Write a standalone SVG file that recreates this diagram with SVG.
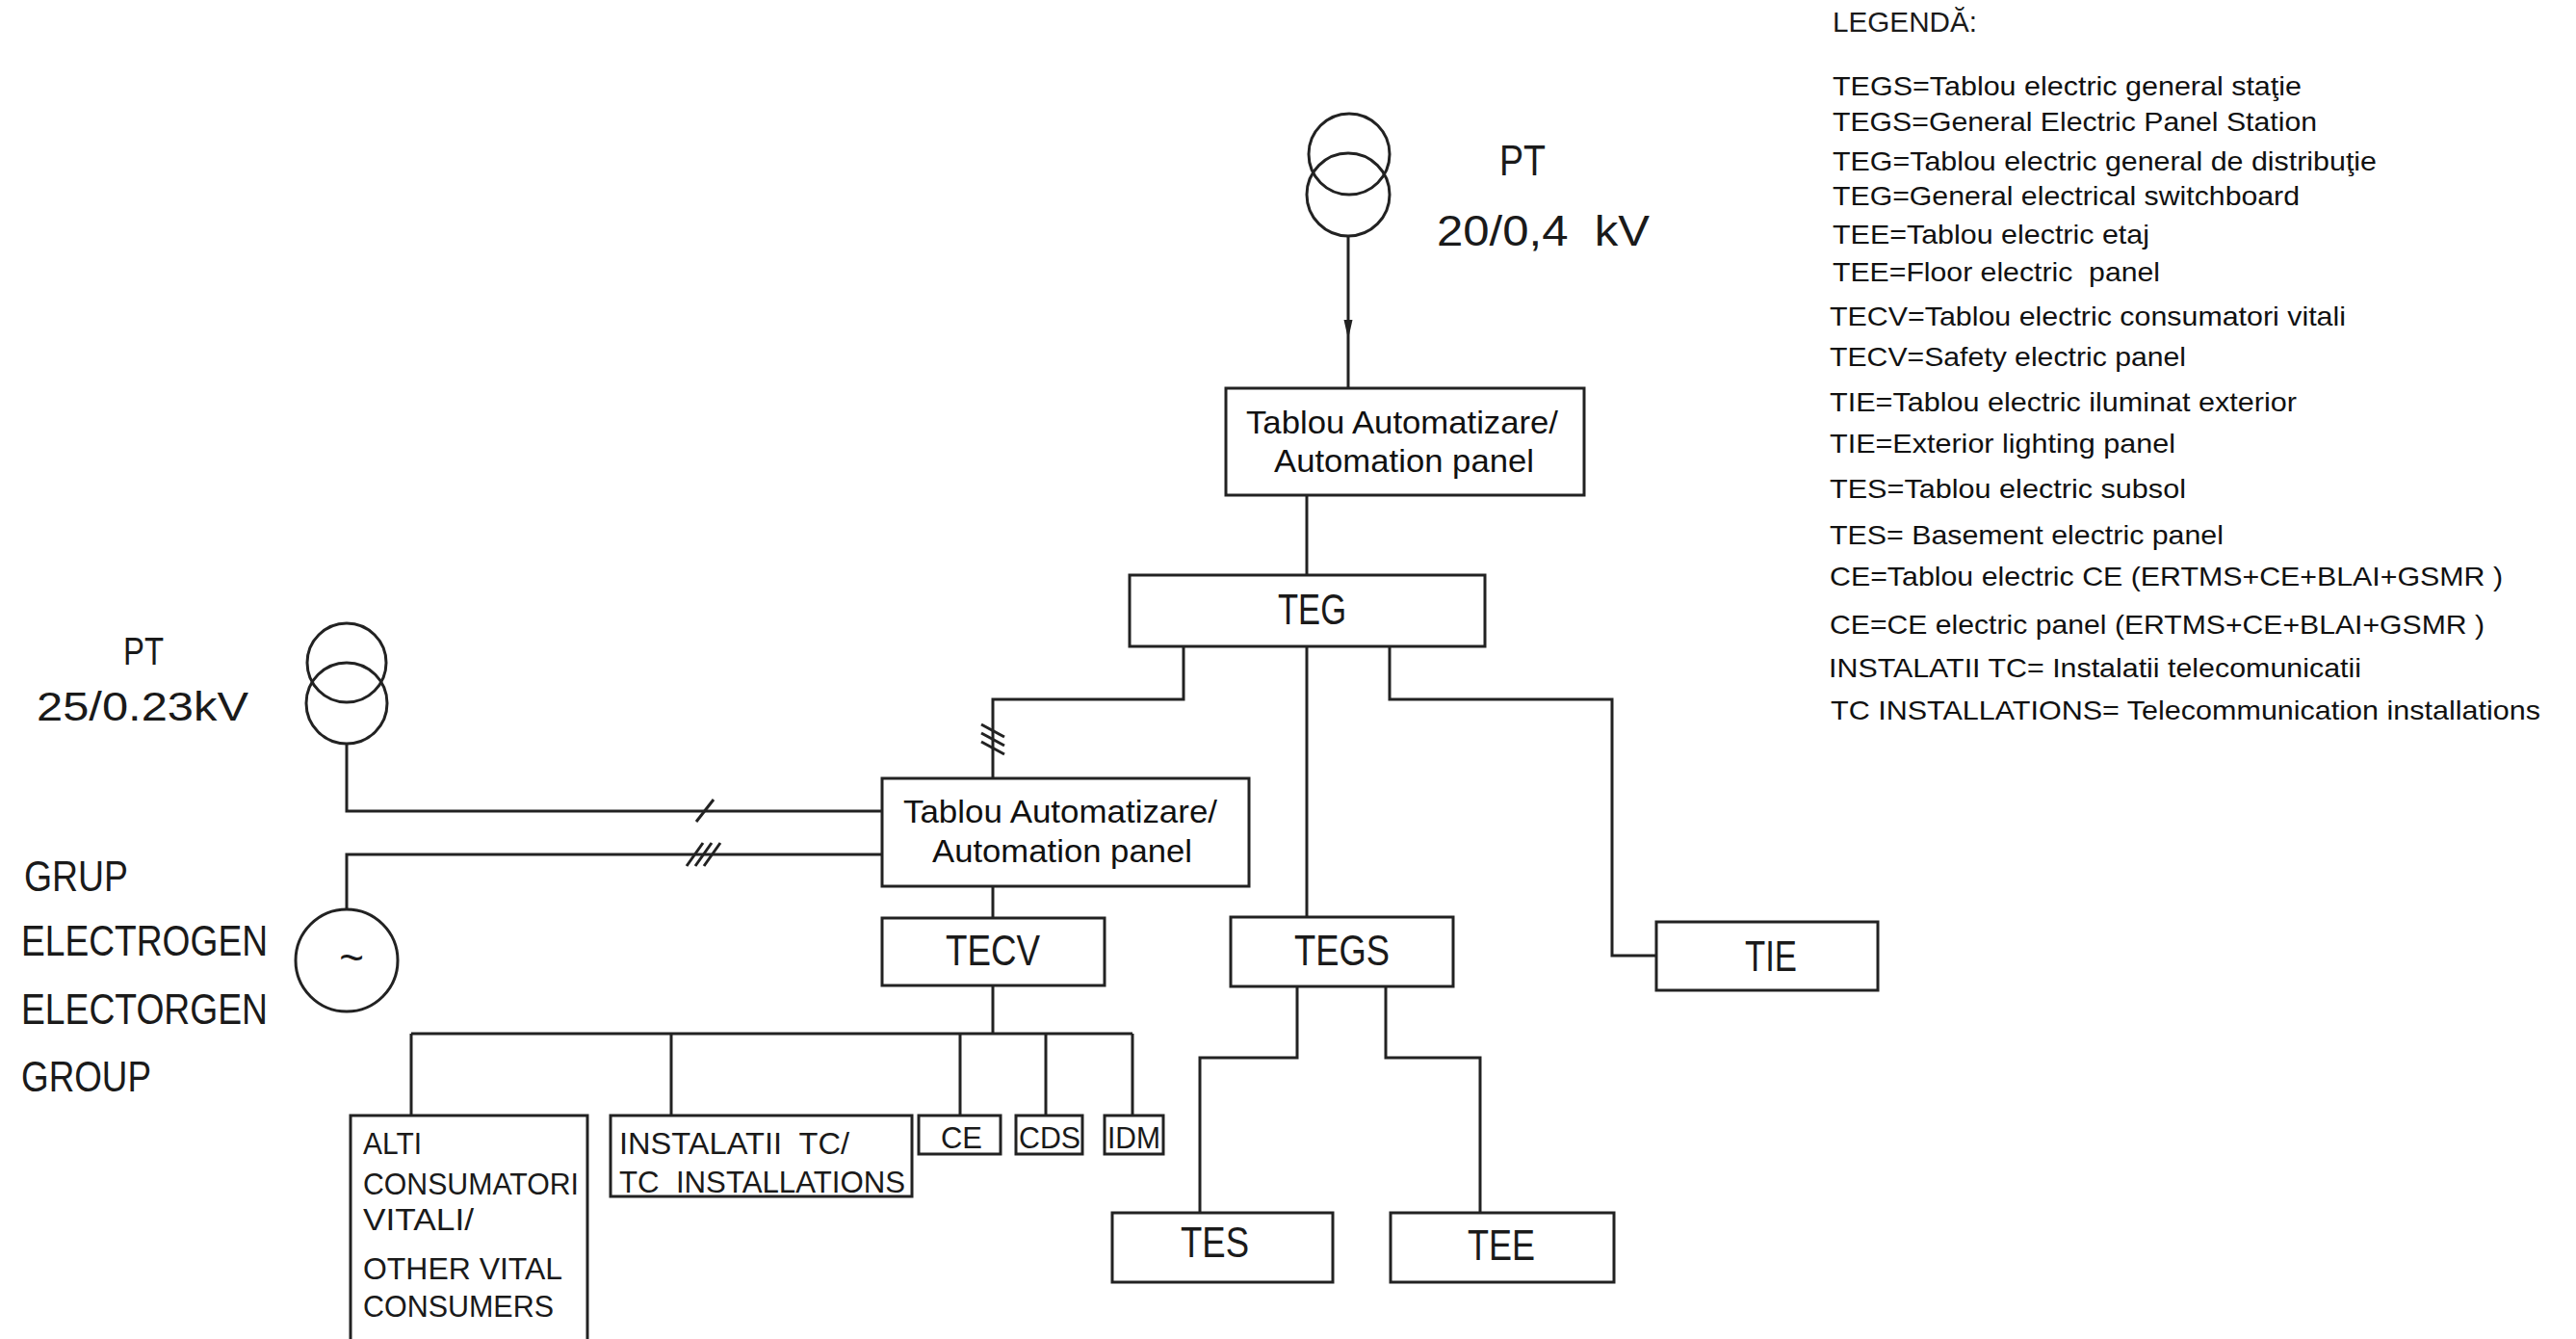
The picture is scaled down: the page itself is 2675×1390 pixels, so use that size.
<svg xmlns="http://www.w3.org/2000/svg" width="2675" height="1390" viewBox="0 0 2675 1390">
<style>
.ln{stroke:#222;stroke-width:3;fill:none}
.box{fill:#fff;stroke:#222;stroke-width:3}
.sym{fill:none;stroke:#222;stroke-width:3}
.cad{font-family:"Liberation Sans",Arial,sans-serif;fill:#1a1a1a}
.big{font-size:45px}
.sm{font-size:31px}
.ar{font-family:"Liberation Sans",Arial,sans-serif;font-size:33px;fill:#111}
.lg{font-family:"Liberation Sans",Arial,sans-serif;font-size:28px;fill:#111}
</style>
<defs>
<marker id="arr" viewBox="0 0 20 10" refX="20" refY="5" markerWidth="20" markerHeight="10" markerUnits="userSpaceOnUse" orient="auto">
<path d="M0,0.5 L20,5 L0,9.5 z" fill="#222"/>
</marker>
</defs>
<rect width="2675" height="1390" fill="#fff"/>

<g id="connectors">
<path class="ln" d="M1400 245 L1400 352 L1400 403" marker-mid="url(#arr)"/>
<path class="ln" d="M1357 514 V597"/>
<path class="ln" d="M1229 671 V726 H1031 V808"/>
<path class="ln" d="M1357 671 V952"/>
<path class="ln" d="M1443 671 V726 H1674 V992 H1720"/>
<path class="ln" d="M360 772 V842 H916"/>
<path class="ln" d="M360 944 V887 H916"/>
<path class="ln" d="M1031 920 V953"/>
<path class="ln" d="M1031 1023 V1073"/>
<path class="ln" d="M427 1073 H1176"/>
<path class="ln" d="M427 1073 V1158 M697 1073 V1158 M997 1073 V1158 M1086 1073 V1158 M1176 1073 V1158"/>
<path class="ln" d="M1347 1024 V1098 H1246 V1259"/>
<path class="ln" d="M1439 1024 V1098 H1537 V1259"/>
<path class="ln" d="M723 853 L741 830"/>
<path class="ln" d="M713 899 L730 875 M722 899 L739 875 M731 899 L748 875"/>
<path class="ln" d="M1019 752 L1043 765 M1019 761 L1043 774 M1019 770 L1043 783"/>
</g>

<g id="pt-main">
<circle class="sym" cx="1401" cy="160" r="42"/>
<circle class="sym" cx="1400" cy="202" r="43"/>
<text class="cad big" x="1557" y="182" textLength="48" lengthAdjust="spacingAndGlyphs">PT</text>
<text class="cad big" x="1492" y="255" textLength="221" lengthAdjust="spacingAndGlyphs" xml:space="preserve">20/0,4  kV</text>
</g>

<g id="automation-main">
<rect class="box" x="1273" y="403" width="372" height="111"/>
<text class="ar" x="1294" y="450" textLength="324" lengthAdjust="spacingAndGlyphs">Tablou Automatizare/</text>
<text class="ar" x="1323" y="490" textLength="270" lengthAdjust="spacingAndGlyphs">Automation panel</text>
</g>

<g id="teg">
<rect class="box" x="1173" y="597" width="369" height="74"/>
<text class="cad big" x="1327" y="648" textLength="71" lengthAdjust="spacingAndGlyphs">TEG</text>
</g>

<g id="pt-aux">
<circle class="sym" cx="360" cy="688" r="41"/>
<circle class="sym" cx="360" cy="730" r="42"/>
<text class="cad" font-size="40" x="128" y="690" textLength="42" lengthAdjust="spacingAndGlyphs">PT</text>
<text class="cad" font-size="43" x="38" y="748" textLength="220" lengthAdjust="spacingAndGlyphs">25/0.23kV</text>
</g>

<g id="generator">
<circle class="sym" cx="360" cy="997" r="53"/>
<text class="cad" font-size="44" x="365" y="1009" text-anchor="middle">~</text>
<text class="cad big" x="25" y="925" textLength="108" lengthAdjust="spacingAndGlyphs">GRUP</text>
<text class="cad big" x="22" y="992" textLength="256" lengthAdjust="spacingAndGlyphs">ELECTROGEN</text>
<text class="cad big" x="22" y="1063" textLength="256" lengthAdjust="spacingAndGlyphs">ELECTORGEN</text>
<text class="cad big" x="22" y="1133" textLength="135" lengthAdjust="spacingAndGlyphs">GROUP</text>
</g>

<g id="automation-secondary">
<rect class="box" x="916" y="808" width="381" height="112"/>
<text class="ar" x="938" y="854" textLength="326" lengthAdjust="spacingAndGlyphs">Tablou Automatizare/</text>
<text class="ar" x="968" y="895" textLength="270" lengthAdjust="spacingAndGlyphs">Automation panel</text>
</g>

<g id="tecv">
<rect class="box" x="916" y="953" width="231" height="70"/>
<text class="cad big" x="982" y="1002" textLength="98" lengthAdjust="spacingAndGlyphs">TECV</text>
</g>

<g id="tegs">
<rect class="box" x="1278" y="952" width="231" height="72"/>
<text class="cad big" x="1344" y="1002" textLength="99" lengthAdjust="spacingAndGlyphs">TEGS</text>
</g>

<g id="tie">
<rect class="box" x="1720" y="957" width="230" height="71"/>
<text class="cad big" x="1812" y="1008" textLength="54" lengthAdjust="spacingAndGlyphs">TIE</text>
</g>

<g id="tes">
<rect class="box" x="1155" y="1259" width="229" height="72"/>
<text class="cad big" x="1226" y="1305" textLength="71" lengthAdjust="spacingAndGlyphs">TES</text>
</g>

<g id="tee">
<rect class="box" x="1444" y="1259" width="232" height="72"/>
<text class="cad big" x="1524" y="1308" textLength="70" lengthAdjust="spacingAndGlyphs">TEE</text>
</g>

<g id="alti">
<rect class="box" x="364" y="1158" width="246" height="240"/>
<text class="cad sm" x="377" y="1198" textLength="61" lengthAdjust="spacingAndGlyphs">ALTI</text>
<text class="cad sm" x="377" y="1240" textLength="224" lengthAdjust="spacingAndGlyphs">CONSUMATORI</text>
<text class="cad sm" x="377" y="1277" textLength="115" lengthAdjust="spacingAndGlyphs">VITALI/</text>
<text class="cad sm" x="377" y="1328" textLength="207" lengthAdjust="spacingAndGlyphs" xml:space="preserve">OTHER VITAL</text>
<text class="cad sm" x="377" y="1367" textLength="198" lengthAdjust="spacingAndGlyphs">CONSUMERS</text>
</g>

<g id="instalatii-tc">
<rect class="box" x="634" y="1158" width="313" height="84"/>
<text class="cad sm" x="643" y="1198" textLength="239" lengthAdjust="spacingAndGlyphs" xml:space="preserve">INSTALATII  TC/</text>
<text class="cad sm" x="643" y="1238" textLength="297" lengthAdjust="spacingAndGlyphs" xml:space="preserve">TC  INSTALLATIONS</text>
</g>

<g id="ce">
<rect class="box" x="954" y="1158" width="85" height="40"/>
<text class="cad sm" x="977" y="1192" textLength="43" lengthAdjust="spacingAndGlyphs">CE</text>
</g>

<g id="cds">
<rect class="box" x="1055" y="1158" width="69" height="40"/>
<text class="cad sm" x="1058" y="1192" textLength="64" lengthAdjust="spacingAndGlyphs">CDS</text>
</g>

<g id="idm">
<rect class="box" x="1147" y="1158" width="61" height="40"/>
<text class="cad sm" x="1150" y="1192" textLength="55" lengthAdjust="spacingAndGlyphs">IDM</text>
</g>

<g id="legend">
<text class="cad" font-size="30" x="1903" y="33" textLength="150" lengthAdjust="spacingAndGlyphs">LEGENDĂ:</text>
<text class="lg" x="1903" y="99" textLength="487" lengthAdjust="spacingAndGlyphs">TEGS=Tablou electric general staţie</text>
<text class="lg" x="1903" y="136" textLength="503" lengthAdjust="spacingAndGlyphs">TEGS=General Electric Panel Station</text>
<text class="lg" x="1903" y="177" textLength="565" lengthAdjust="spacingAndGlyphs">TEG=Tablou electric general de distribuţie</text>
<text class="lg" x="1903" y="213" textLength="485" lengthAdjust="spacingAndGlyphs">TEG=General electrical switchboard</text>
<text class="lg" x="1903" y="253" textLength="329" lengthAdjust="spacingAndGlyphs">TEE=Tablou electric etaj</text>
<text class="lg" x="1903" y="292" textLength="340" lengthAdjust="spacingAndGlyphs" xml:space="preserve">TEE=Floor electric  panel</text>
<text class="lg" x="1900" y="338" textLength="536" lengthAdjust="spacingAndGlyphs">TECV=Tablou electric consumatori vitali</text>
<text class="lg" x="1900" y="380" textLength="370" lengthAdjust="spacingAndGlyphs">TECV=Safety electric panel</text>
<text class="lg" x="1900" y="427" textLength="485" lengthAdjust="spacingAndGlyphs">TIE=Tablou electric iluminat exterior</text>
<text class="lg" x="1900" y="470" textLength="359" lengthAdjust="spacingAndGlyphs">TIE=Exterior lighting panel</text>
<text class="lg" x="1900" y="517" textLength="370" lengthAdjust="spacingAndGlyphs">TES=Tablou electric subsol</text>
<text class="lg" x="1900" y="565" textLength="409" lengthAdjust="spacingAndGlyphs">TES= Basement electric panel</text>
<text class="lg" x="1900" y="608" textLength="699" lengthAdjust="spacingAndGlyphs">CE=Tablou electric CE (ERTMS+CE+BLAI+GSMR )</text>
<text class="lg" x="1900" y="658" textLength="680" lengthAdjust="spacingAndGlyphs">CE=CE electric panel (ERTMS+CE+BLAI+GSMR )</text>
<text class="lg" x="1899" y="703" textLength="553" lengthAdjust="spacingAndGlyphs">INSTALATII TC= Instalatii telecomunicatii</text>
<text class="lg" x="1901" y="747" textLength="737" lengthAdjust="spacingAndGlyphs">TC INSTALLATIONS= Telecommunication installations</text>
</g>
</svg>
